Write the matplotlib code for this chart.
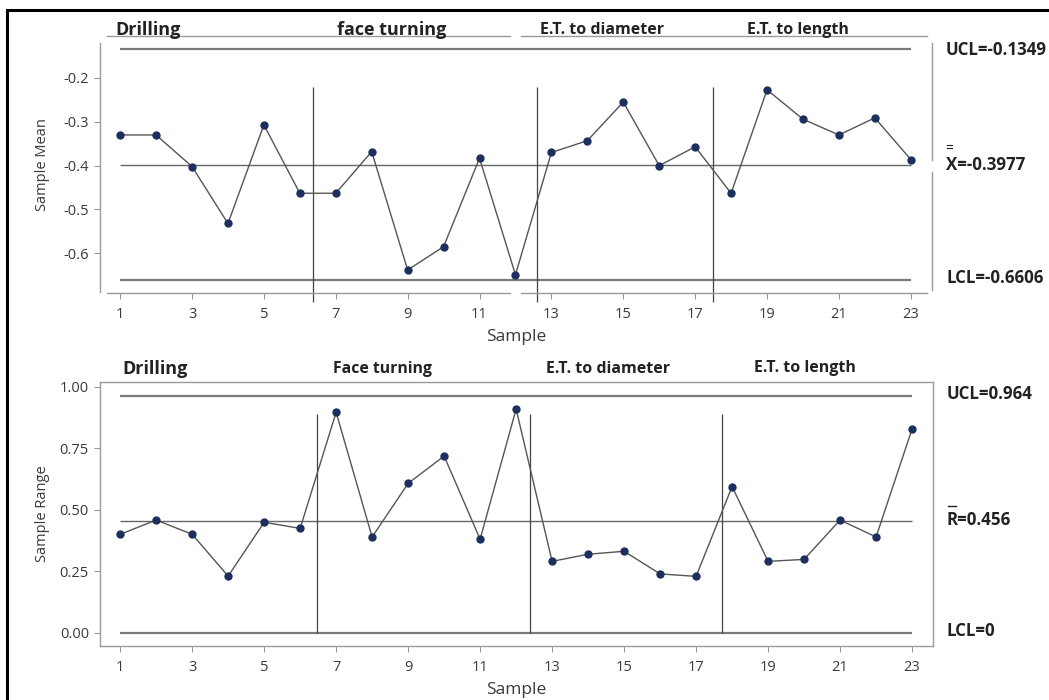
import matplotlib
matplotlib.use("Agg")
import matplotlib.pyplot as plt
from matplotlib.patches import Rectangle
from matplotlib.lines import Line2D

plt.rcParams['font.family'] = ['Open Sans', 'DejaVu Sans']
plt.rcParams['axes.unicode_minus'] = False

samples = list(range(1, 24))
xbar = [-0.330, -0.330, -0.402, -0.532, -0.307, -0.463, -0.463, -0.368, -0.638, -0.585,
        -0.383, -0.649, -0.370, -0.343, -0.255, -0.400, -0.357, -0.463, -0.227, -0.294,
        -0.330, -0.291, -0.386]
ranges = [0.400, 0.458, 0.400, 0.230, 0.449, 0.424, 0.896, 0.389, 0.607, 0.718,
          0.380, 0.909, 0.290, 0.319, 0.331, 0.239, 0.229, 0.594, 0.290, 0.298,
          0.458, 0.389, 0.828]
xbar_limits = {'UCL': -0.1349, 'CL': -0.3977, 'LCL': -0.6606}
r_limits = {'UCL': 0.964, 'CL': 0.456, 'LCL': 0.0}
xticks = list(range(1, 24, 2))
mean_ticks = [-0.2, -0.3, -0.4, -0.5, -0.6]
range_ticks = [0.0, 0.25, 0.5, 0.75, 1.0]
# phase boundaries (sample index) for each chart
mean_splits = [6.37, 12.59, 17.49]
range_splits = [6.47, 12.38, 17.72]

W, H = 1049, 700
fig = plt.figure(figsize=(W / 100, H / 100), dpi=100)

def fx(px):
    return px / W

def fy(py):
    return 1 - py / H

line_col = '#555555'
mark_col = '#1c2f5e'
limit_col = '#7a7a7a'
spine_col = '#9a9a9a'
text_col = '#3a3a3a'

def setup(ax, yticks, ylim, fmt):
    ax.set_xlim(0.44, 23.59)
    ax.set_ylim(*ylim)
    ax.set_xticks(xticks)
    ax.set_yticks(yticks)
    ax.set_yticklabels([fmt.format(v) for v in yticks])
    ax.tick_params(direction='out', length=4, width=0.8, color=spine_col,
                   labelsize=10.5, labelcolor=text_col)
    ax.tick_params(axis='y', pad=4)
    ax.tick_params(axis='x', pad=6)

def draw_chart(ax, values, lim, splits, vtop, vbot):
    ax.hlines([lim['UCL'], lim['LCL']], 1, 23, color=limit_col, lw=1.6)
    ax.hlines(lim['CL'], 1, 23, color='#666666', lw=1.0)
    ax.vlines(splits, vbot, vtop, color='#444444', lw=0.9, clip_on=False)
    ax.plot(samples, values, color=line_col, lw=1.0, marker='o', ms=5,
            mfc=mark_col, mec=mark_col, zorder=3)

# ---- Xbar chart ----
ax1 = fig.add_axes([fx(100), fy(293), fx(832), (293 - 36) / H])
setup(ax1, mean_ticks, (-0.6906, -0.1042), '{:.1f}')
ax1.set_ylabel('Sample Mean', fontsize=10.5, color=text_col)
ax1.yaxis.set_label_coords(-0.060, 0.5)
ax1.set_xlabel('Sample', fontsize=12.5, color=text_col)
ax1.xaxis.set_label_coords(0.5, -0.14)
draw_chart(ax1, xbar, xbar_limits, mean_splits, -0.2205, -0.71)
for s in ax1.spines.values():
    s.set_visible(False)
# broken frame like the original
segs = [((0, 0), (0.004, 0.973)),
        ((0.008, 0.493), (0, 0)), ((0.506, 0.994), (0, 0)),
        ((0.008, 0.493), (1, 1)), ((0.506, 0.994), (1, 1)),
        ((1, 1), (0.5175, 0.973)), ((1, 1), (0.012, 0.471))]
for xs, ys in segs:
    ax1.plot(xs, ys, transform=ax1.transAxes, color=spine_col, lw=1.0, clip_on=False)

# ---- R chart ----
ax2 = fig.add_axes([fx(100), fy(646), fx(833.3), (646 - 381.7) / H])
setup(ax2, range_ticks, (-0.054, 1.0203), '{:.2f}')
ax2.set_ylabel('Sample Range', fontsize=10.5, color=text_col)
ax2.yaxis.set_label_coords(-0.060, 0.5)
ax2.set_xlabel('Sample', fontsize=12.5, color=text_col)
ax2.xaxis.set_label_coords(0.5, -0.135)
draw_chart(ax2, ranges, r_limits, range_splits, 0.89, 0.0)
for s in ax2.spines.values():
    s.set_color(spine_col)
    s.set_linewidth(1.0)

# ---- phase titles ----
tc = '#222222'
fig.text(fx(115), fy(35), 'Drilling', fontsize=13, weight='bold', color=tc, va='baseline')
fig.text(fx(337), fy(35), 'face turning', fontsize=13, weight='bold', color=tc, va='baseline')
fig.text(fx(540), fy(34), 'E.T. to diameter', fontsize=11.5, weight='bold', color=tc, va='baseline')
fig.text(fx(747), fy(34), 'E.T. to length', fontsize=11.5, weight='bold', color=tc, va='baseline')

fig.text(fx(122), fy(374), 'Drilling', fontsize=13, weight='bold', color=tc, va='baseline')
fig.text(fx(333), fy(373), 'Face turning', fontsize=11.3, weight='bold', color=tc, va='baseline')
fig.text(fx(546), fy(373), 'E.T. to diameter', fontsize=11.5, weight='bold', color=tc, va='baseline')
fig.text(fx(754), fy(372), 'E.T. to length', fontsize=11.5, weight='bold', color=tc, va='baseline')

# ---- control limit labels ----
lab = dict(fontsize=12.2, weight='bold', color=tc, va='center')
fig.text(fx(946), fy(50), 'UCL=-0.1349', **lab)
fig.text(fx(946), fy(165), 'X=-0.3977', **lab)
fig.text(fx(946), fy(278), 'LCL=-0.6606', **lab)
fig.text(fx(947), fy(394), 'UCL=0.964', **lab)
fig.text(fx(947), fy(520), 'R=0.456', **lab)
fig.text(fx(947), fy(631), 'LCL=0', **lab)
# bars over X and R
for yy in (144.5, 147.5):
    fig.add_artist(Line2D([fx(947), fx(952)], [fy(yy), fy(yy)], color=tc, lw=0.8))
fig.add_artist(Line2D([fx(948), fx(956)], [fy(506), fy(506)], color=tc, lw=1.0))

# outer black frame
fig.patches.append(Rectangle((fx(7), -0.01), 1.0, fy(10) + 0.01, transform=fig.transFigure,
                             fill=False, edgecolor='black', lw=2.2))

fig.savefig('out.png', dpi=100)
